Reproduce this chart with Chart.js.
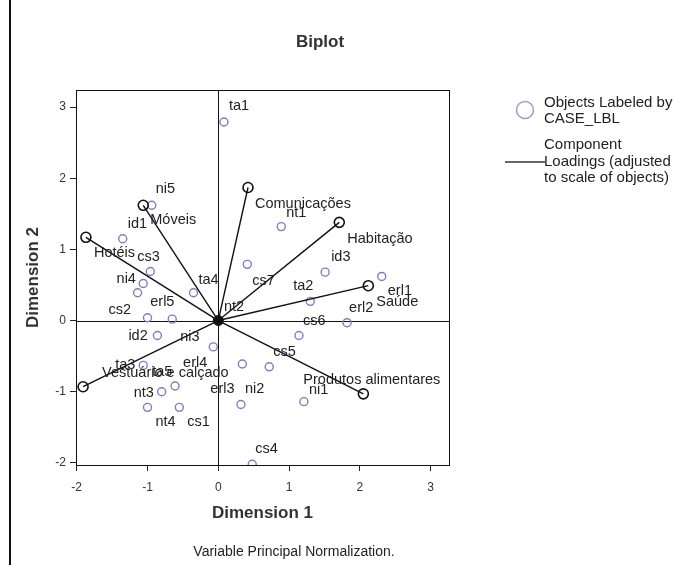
<!DOCTYPE html>
<html>
<head>
<meta charset="utf-8">
<script src="https://cdn.jsdelivr.net/npm/chart.js@4.4.1/dist/chart.umd.min.js"></script>
<style>
  html, body { margin: 0; padding: 0; background: #fff; }
  #wrap { position: relative; width: 683px; height: 565px; }
</style>
</head>
<body>
<div id="wrap"><canvas id="biplot" width="683" height="565"></canvas></div>
<script>
// ---- data: object scores ----
const objectLabels = ['ta1', 'ni5', 'id1', 'nt1', 'cs3', 'ta5', 'ni4', 'ta4', 'cs7', 'id3',
  'ta2', 'erl1', 'erl2', 'nt2', 'cs2', 'erl5', 'id2', 'ni3', 'cs6', 'cs5',
  'ta3', 'erl4', 'erl3', 'ni2', 'ni1', 'nt3', 'nt4', 'cs1', 'cs4'];
const objectDim1 = [0.08, -0.94, -1.35, 0.89, -0.96, -1.06, -1.14, -0.35, 0.41, 1.51,
  1.30, 2.31, 1.82, 0.01, -1.00, -0.65, -0.86, -0.07, 1.14, 0.72,
  -1.06, -0.61, 0.34, 0.32, 1.21, -0.80, -1.00, -0.55, 0.48];
const objectDim2 = [2.79, 1.62, 1.15, 1.32, 0.69, 0.52, 0.39, 0.39, 0.79, 0.68,
  0.27, 0.62, -0.03, 0.00, 0.04, 0.02, -0.21, -0.37, -0.21, -0.65,
  -0.63, -0.92, -0.61, -1.18, -1.14, -1.00, -1.22, -1.22, -2.02];

// ---- data: component loadings (adjusted to scale of objects) ----
const loadingLabels = ['Comunicações', 'Móveis', 'Hotéis', 'Habitação', 'Saúde',
  'Produtos alimentares', 'Vestuário e calçado'];
const loadingDim1 = [0.42, -1.06, -1.87, 1.71, 2.12, 2.05, -1.91];
const loadingDim2 = [1.87, 1.62, 1.17, 1.38, 0.49, -1.03, -0.93];

const xTicks = [-2, -1, 0, 1, 2, 3];
const yTicks = [-2, -1, 0, 1, 2, 3];

// ---- label placement (pixel offsets from the mark, text left / middle) ----
const objectLabelOffset = {
  ta1: [5, -16], ni5: [4, -16], id1: [5, -15], nt1: [5, -14], cs3: [-13, -14],
  ta5: [9, 88], ni4: [-21, -14], ta4: [5, -13], cs7: [5, 17], id3: [6, -15],
  ta2: [-17, -15], erl1: [6, 15], erl2: [2, -15], nt2: [5, -14], cs2: [-39, -8],
  erl5: [-22, -17], id2: [-29, 1], ni3: [-33, -10], cs6: [4, -14], cs5: [4, -15],
  ta3: [-28, 0], erl4: [8, -23], erl3: [-32, 25], ni2: [4, -16], ni1: [5, -12],
  nt3: [-28, 1], nt4: [8, 15], cs1: [8, 15], cs4: [3, -15]
};
const loadingLabelOffset = [[7, 17], [7, 15], [8, 16], [8, 17], [8, 16], [-60, -14], [19, -14]];

const FONT = "'Liberation Sans', Arial, sans-serif";
const INK = '#222';
const OBJ_COLOR = '#7b7fc2';

const objectPoints = objectLabels.map((l, i) => ({ x: objectDim1[i], y: objectDim2[i] }));

const loadingSets = loadingLabels.map((l, i) => ({
  label: l,
  data: [{ x: 0, y: 0 }, { x: loadingDim1[i], y: loadingDim2[i] }],
  showLine: true,
  borderColor: '#111',
  borderWidth: 1.4,
  pointRadius: [0, 5],
  pointBorderColor: '#111',
  pointBackgroundColor: 'rgba(0,0,0,0)',
  pointBorderWidth: 1.6,
  order: 1
}));

const decor = {
  id: 'decor',
  beforeDraw(chart) {
    const ctx = chart.ctx;
    ctx.save();
    ctx.fillStyle = '#fff';
    ctx.fillRect(0, 0, chart.width, chart.height);
    ctx.restore();
  },
  beforeDatasetsDraw(chart) {
    const { ctx, chartArea: a, scales: { x, y } } = chart;
    ctx.save();
    ctx.strokeStyle = '#111';
    ctx.lineWidth = 1;
    const x0 = Math.round(x.getPixelForValue(0)) + 0.5;
    const y0 = Math.round(y.getPixelForValue(0)) + 0.5;
    ctx.beginPath();
    ctx.moveTo(x0, a.top); ctx.lineTo(x0, a.bottom);
    ctx.moveTo(a.left, y0); ctx.lineTo(a.right, y0);
    ctx.stroke();
    ctx.restore();
  },
  afterDatasetsDraw(chart) {
    const { ctx, chartArea: a, scales: { x, y } } = chart;
    ctx.save();
    ctx.font = '14.5px ' + FONT;
    ctx.fillStyle = INK;
    ctx.textAlign = 'left';
    ctx.textBaseline = 'middle';
    objectLabels.forEach((l, i) => {
      const o = objectLabelOffset[l] || [5, -15];
      ctx.fillText(l, x.getPixelForValue(objectDim1[i]) + o[0], y.getPixelForValue(objectDim2[i]) + o[1]);
    });
    loadingLabels.forEach((l, i) => {
      const o = loadingLabelOffset[i];
      ctx.fillText(l, x.getPixelForValue(loadingDim1[i]) + o[0], y.getPixelForValue(loadingDim2[i]) + o[1]);
    });

    // frame
    ctx.strokeStyle = '#111';
    ctx.lineWidth = 1;
    ctx.strokeRect(a.left + 0.5, a.top + 0.5, a.right - a.left, a.bottom - a.top);

    // title
    ctx.font = 'bold 17px ' + FONT;
    ctx.textAlign = 'center';
    ctx.fillStyle = '#333';
    ctx.fillText('Biplot', 320, 42);

    // footnote
    ctx.font = '14px ' + FONT;
    ctx.fillStyle = INK;
    ctx.fillText('Variable Principal Normalization.', 294, 552);

    // legend
    ctx.textAlign = 'left';
    ctx.font = '15px ' + FONT;
    ctx.strokeStyle = '#9a9dd2';
    ctx.lineWidth = 1.5;
    ctx.beginPath();
    ctx.arc(525, 110, 8.5, 0, Math.PI * 2);
    ctx.stroke();
    ctx.fillText('Objects Labeled by', 544, 103);
    ctx.fillText('CASE_LBL', 544, 119);
    ctx.fillText('Component', 544, 145);
    ctx.fillText('Loadings (adjusted', 544, 162);
    ctx.fillText('to scale of objects)', 544, 178);
    ctx.strokeStyle = '#333';
    ctx.lineWidth = 1.3;
    ctx.beginPath();
    ctx.moveTo(505, 162); ctx.lineTo(545, 162);
    ctx.stroke();

    // page edge
    ctx.strokeStyle = '#111';
    ctx.lineWidth = 2;
    ctx.beginPath();
    ctx.moveTo(10, 0); ctx.lineTo(10, chart.height);
    ctx.stroke();
    ctx.restore();
  }
};

new Chart(document.getElementById('biplot'), {
  type: 'scatter',
  data: {
    datasets: [
      {
        label: 'Objects Labeled by CASE_LBL',
        data: objectPoints,
        pointRadius: 4,
        pointBorderWidth: 1.4,
        pointBorderColor: OBJ_COLOR,
        pointBackgroundColor: 'rgba(0,0,0,0)',
        order: 2
      },
      ...loadingSets,
      {
        label: 'origin',
        data: [{ x: 0, y: 0 }],
        pointRadius: 5,
        pointBackgroundColor: '#111',
        pointBorderColor: '#111',
        order: 0
      }
    ]
  },
  options: {
    responsive: false,
    animation: false,
    devicePixelRatio: 1,
    layout: { padding: { left: 0, top: 90, right: 234, bottom: 35 } },
    plugins: {
      legend: { display: false },
      tooltip: { enabled: false }
    },
    scales: {
      x: {
        type: 'linear',
        min: -2.01,
        max: 3.26,
        afterBuildTicks: s => { s.ticks = xTicks.map(v => ({ value: v })); },
        afterFit: s => { s.height = 65; },
        grid: { drawOnChartArea: false, drawTicks: true, tickLength: 6, color: '#222' },
        border: { display: false },
        ticks: { color: '#333', font: { family: FONT, size: 12 }, padding: 9, maxRotation: 0 },
        title: {
          display: true, text: 'Dimension 1', color: '#333',
          font: { family: FONT, size: 17, weight: 'bold' }, padding: { top: 0, bottom: 6 }
        }
      },
      y: {
        type: 'linear',
        min: -2.03,
        max: 3.24,
        afterBuildTicks: s => { s.ticks = yTicks.map(v => ({ value: v })); },
        afterFit: s => { s.width = 76; },
        grid: { drawOnChartArea: false, drawTicks: true, tickLength: 6, color: '#222' },
        border: { display: false },
        ticks: { color: '#333', font: { family: FONT, size: 12 }, padding: 4 },
        title: {
          display: true, text: 'Dimension 2', color: '#333',
          font: { family: FONT, size: 17, weight: 'bold' }, padding: { top: 23, bottom: 0 }
        }
      }
    }
  },
  plugins: [decor]
});
</script>
</body>
</html>
